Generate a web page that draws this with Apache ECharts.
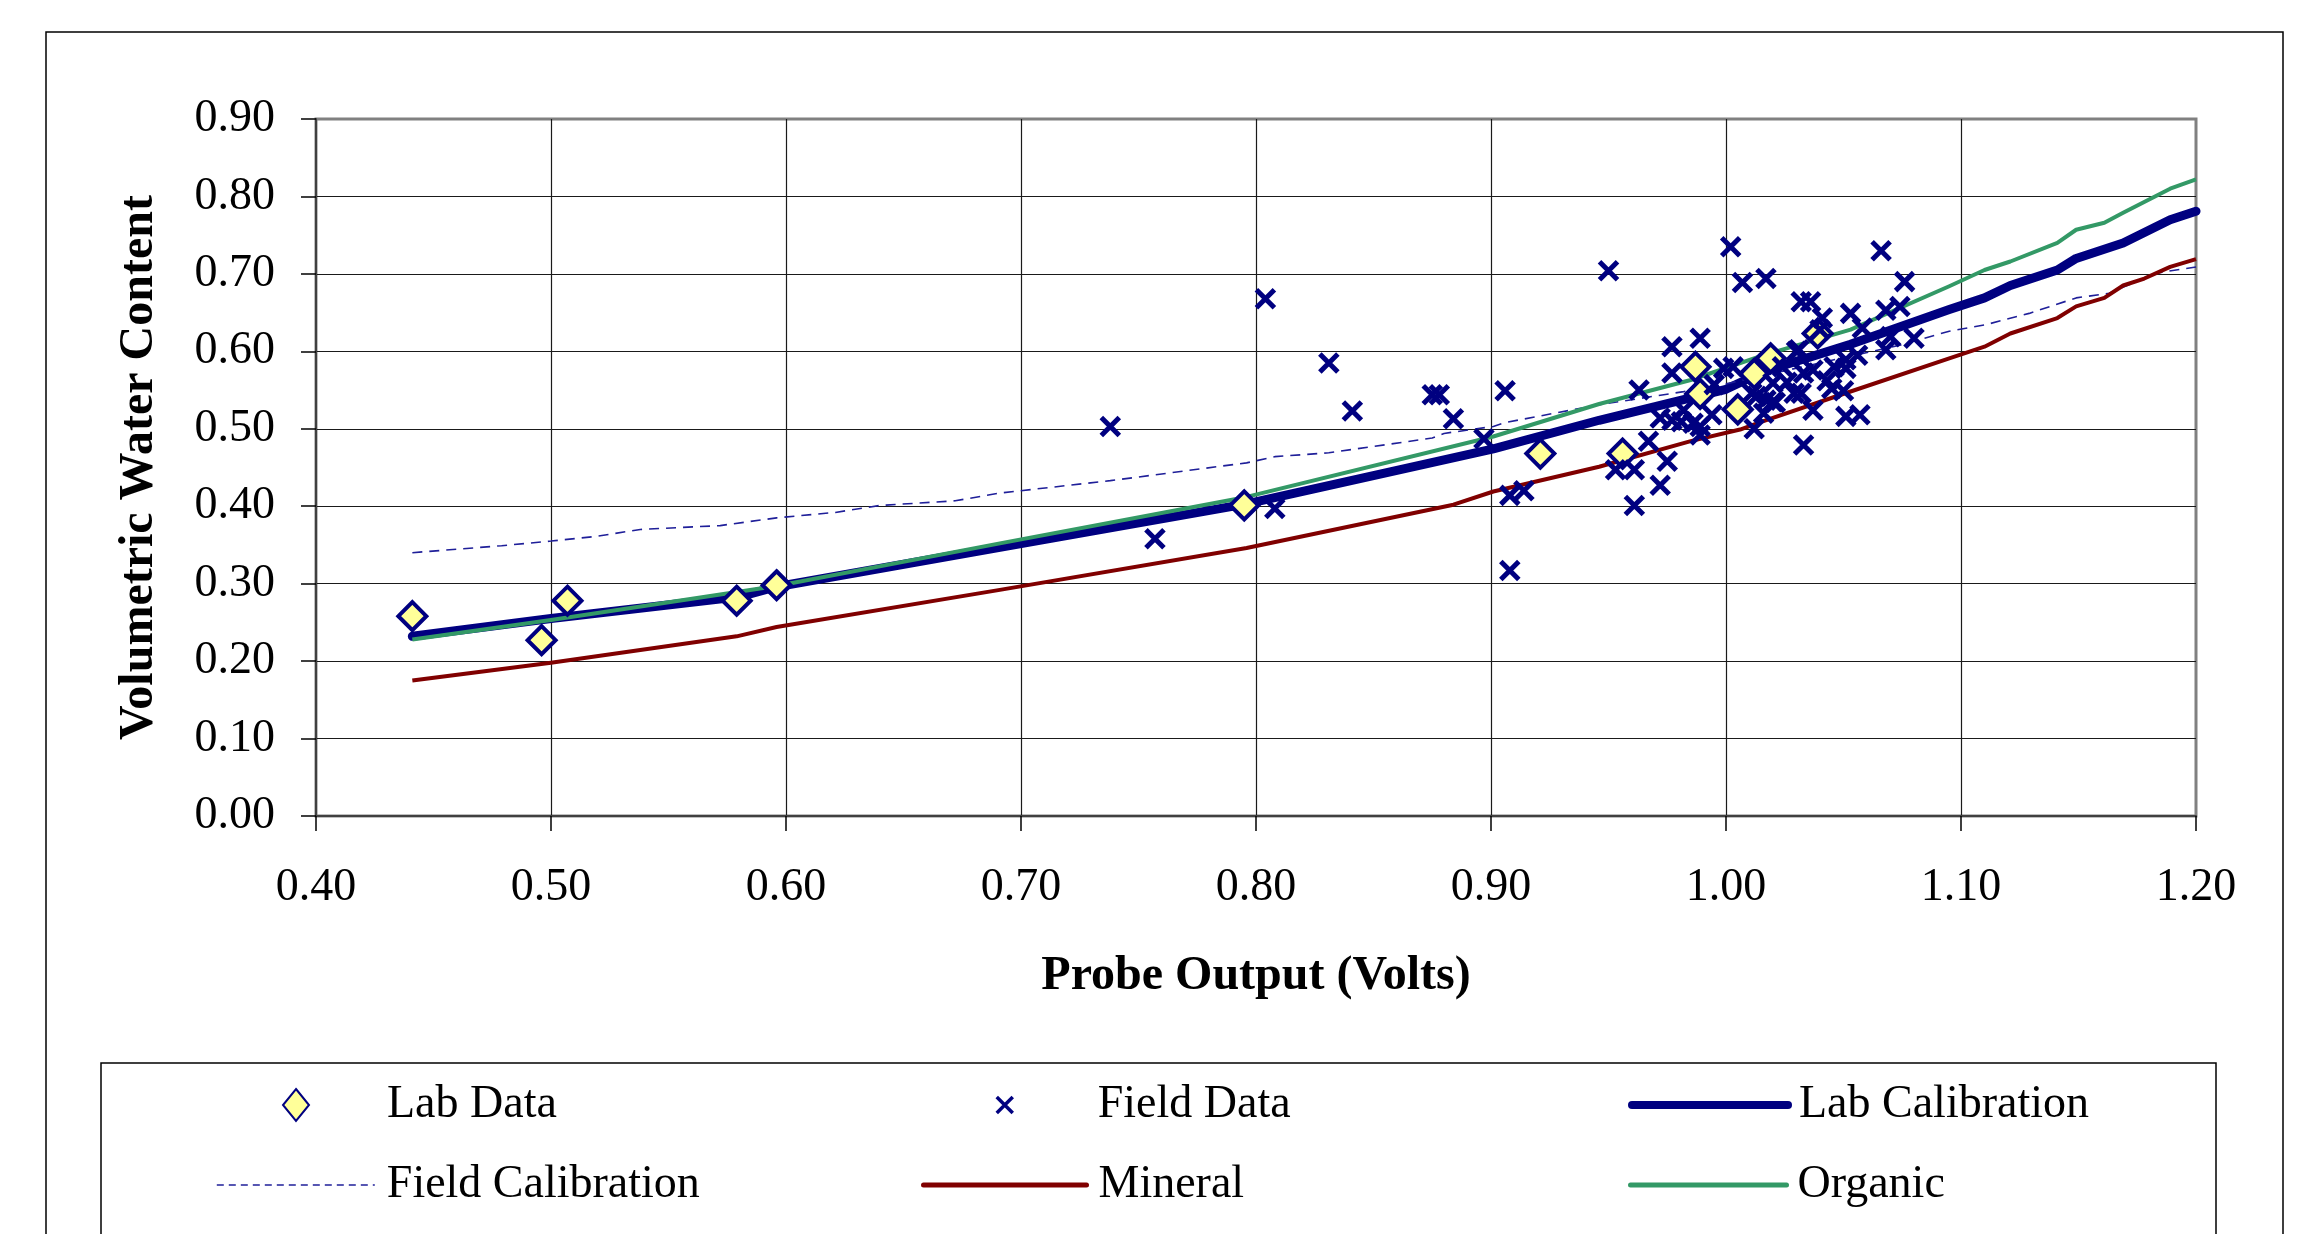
<!DOCTYPE html>
<html>
<head>
<meta charset="utf-8">
<title>Probe calibration</title>
<script src="https://cdn.jsdelivr.net/npm/echarts@6/dist/echarts.min.js"></script>
<style>
  html, body { margin: 0; padding: 0; background: #fff; }
  #chart { width: 2301px; height: 1234px; }
</style>
</head>
<body>
<div id="chart"></div>
<script>
// Axis ranges: [min, max, interval]
const xRange = [0.4, 1.2, 0.1];
const yRange = [0.0, 0.9, 0.1];

// Laboratory samples: [probe output (V), volumetric water content]
const labData = [
  [0.441, 0.258], [0.496, 0.227], [0.507, 0.278], [0.579, 0.278], [0.596, 0.298],
  [0.795, 0.401], [0.921, 0.468], [0.956, 0.468], [0.987, 0.580], [0.989, 0.545],
  [1.005, 0.525], [1.012, 0.571], [1.019, 0.591], [1.039, 0.623]
];

// Field samples
const fieldData = [
  [0.738, 0.503], [0.757, 0.358], [0.804, 0.668], [0.808, 0.397], [0.831, 0.585],
  [0.841, 0.523], [0.875, 0.544], [0.878, 0.544], [0.884, 0.513], [0.897, 0.487],
  [0.906, 0.549], [0.908, 0.414], [0.914, 0.420], [0.908, 0.317], [0.950, 0.704],
  [1.002, 0.735], [1.007, 0.689], [1.017, 0.694], [1.066, 0.730], [1.076, 0.690],
  [0.953, 0.447], [0.961, 0.447], [0.961, 0.401], [0.972, 0.427], [0.975, 0.458],
  [0.967, 0.484], [0.963, 0.550], [0.977, 0.606], [0.989, 0.617], [0.977, 0.572],
  [0.972, 0.514], [0.977, 0.511], [0.982, 0.524], [0.981, 0.509], [0.986, 0.507],
  [0.989, 0.503], [0.989, 0.492], [0.994, 0.518], [0.995, 0.557], [0.999, 0.578],
  [1.003, 0.580], [1.012, 0.500], [1.016, 0.520], [1.013, 0.542], [1.020, 0.559],
  [1.017, 0.537], [1.011, 0.546], [1.021, 0.534], [1.024, 0.580], [1.032, 0.664],
  [1.036, 0.664], [1.041, 0.643], [1.053, 0.649], [1.058, 0.630], [1.068, 0.653],
  [1.074, 0.658], [1.080, 0.617], [1.070, 0.619], [1.068, 0.602], [1.056, 0.595],
  [1.051, 0.589], [1.031, 0.602], [1.033, 0.572], [1.037, 0.576], [1.043, 0.562],
  [1.051, 0.578], [1.050, 0.549], [1.045, 0.552], [1.029, 0.546], [1.032, 0.546],
  [1.037, 0.524], [1.051, 0.516], [1.057, 0.518], [1.033, 0.479], [1.020, 0.535],
  [1.026, 0.560], [1.040, 0.628], [1.046, 0.580], [1.030, 0.600]
];

// Calibration curves
const labCalX = [0.441, 0.500, 0.580, 0.596, 0.691, 0.796, 0.901, 0.946, 0.985, 1.000, 1.016, 1.053, 1.095, 1.110, 1.121, 1.141, 1.149, 1.169, 1.189, 1.200];
const labCalY = [0.232, 0.255, 0.283, 0.296, 0.347, 0.403, 0.474, 0.511, 0.540, 0.551, 0.574, 0.609, 0.654, 0.669, 0.685, 0.705, 0.720, 0.740, 0.770, 0.781];

const fieldCalX = [0.441, 0.479, 0.500, 0.519, 0.538, 0.572, 0.596, 0.621, 0.640, 0.672, 0.691, 0.738, 0.796, 0.808, 0.831, 0.875, 0.880, 0.901, 0.906, 0.946, 0.982, 1.000, 1.040, 1.074, 1.095, 1.110, 1.129, 1.149, 1.163, 1.183, 1.200];
const fieldCalY = [0.340, 0.349, 0.355, 0.361, 0.370, 0.375, 0.385, 0.392, 0.401, 0.407, 0.417, 0.433, 0.456, 0.464, 0.469, 0.488, 0.494, 0.503, 0.508, 0.531, 0.548, 0.558, 0.585, 0.608, 0.626, 0.634, 0.649, 0.669, 0.675, 0.701, 0.709];

const mineralX = [0.441, 0.500, 0.579, 0.596, 0.691, 0.796, 0.884, 0.901, 0.946, 0.985, 1.006, 1.015, 1.047, 1.095, 1.110, 1.121, 1.141, 1.149, 1.161, 1.169, 1.178, 1.189, 1.200];
const mineralY = [0.175, 0.198, 0.232, 0.244, 0.292, 0.346, 0.402, 0.419, 0.451, 0.484, 0.499, 0.509, 0.542, 0.591, 0.606, 0.623, 0.643, 0.658, 0.669, 0.685, 0.694, 0.709, 0.719];

const organicX = [0.441, 0.500, 0.596, 0.691, 0.796, 0.901, 0.946, 0.985, 1.016, 1.053, 1.095, 1.110, 1.121, 1.141, 1.149, 1.161, 1.169, 1.189, 1.200];
const organicY = [0.228, 0.253, 0.297, 0.352, 0.412, 0.490, 0.532, 0.563, 0.595, 0.628, 0.684, 0.705, 0.716, 0.740, 0.757, 0.766, 0.779, 0.810, 0.822];

const pair = (xs, ys) => xs.map((x, i) => [x, ys[i]]);

const SERIF = '"Liberation Serif", "Times New Roman", serif';
const NAVY = '#000080';
const DASH_BLUE = '#1f1f99';
const MAROON = '#800000';
const GREEN = '#339966';
const CROSS = 'path://M0,0L10,10M10,0L0,10';

// One legend block per entry so each sits in its own column/row
function legendItem(name, left, top, itemW, itemH, pad, line, itemStyle) {
  const lg = {
    data: [name], left: left, top: top, padding: 0,
    itemWidth: itemW, itemHeight: itemH, selectedMode: false,
    textStyle: {
      fontFamily: SERIF, fontSize: 46, color: '#000', lineHeight: 46,
      padding: [0, 0, 0, pad]
    }
  };
  // line entries show only the stroke, without a marker in the middle
  if (line) {
    lg.itemStyle = { opacity: 0, borderWidth: 0 };
    lg.lineStyle = line;
  }
  if (itemStyle) lg.itemStyle = itemStyle;
  return lg;
}
const row1 = 1105 - 23, row2 = 1185 - 23;

const chart = echarts.init(document.getElementById('chart'), null, { renderer: 'canvas' });

chart.setOption({
  backgroundColor: '#fff',
  animation: false,
  graphic: [
    { type: 'rect', silent: true, z: -10,
      shape: { x: 46, y: 32, width: 2237, height: 1300 },
      style: { fill: 'none', stroke: '#000', lineWidth: 1.5 } },
    { type: 'rect', silent: true, z: -10,
      shape: { x: 101, y: 1063, width: 2115, height: 300 },
      style: { fill: 'none', stroke: '#000', lineWidth: 1.5 } }
  ],
  grid: {
    left: 316, right: 105, top: 119, bottom: 418,
    show: true, borderColor: '#808080', borderWidth: 3, backgroundColor: '#fff'
  },
  legend: [
    legendItem('Lab Data', 282, row1, 26, 32, 73, null, null),
    legendItem('Field Calibration', 216, row2, 158, 20, 7,
      { color: DASH_BLUE, width: 1.6, type: [7, 5] }, null),
    legendItem('Field Data', 995, row1, 16, 16, 80, null,
      { color: 'rgba(0,0,0,0)', borderColor: NAVY, borderWidth: 3.5 }),
    legendItem('Mineral', 921, row2, 163, 20, 7,
      { color: MAROON, width: 5, cap: 'round' }, null),
    legendItem('Lab Calibration', 1628, row1, 156, 20, 6,
      { color: NAVY, width: 8, cap: 'round' }, null),
    legendItem('Organic', 1628, row2, 156, 20, 6,
      { color: GREEN, width: 5, cap: 'round' }, null)
  ],
  xAxis: {
    type: 'value', min: xRange[0], max: xRange[1], interval: xRange[2],
    name: 'Probe Output (Volts)', nameLocation: 'middle', nameGap: 137,
    nameTextStyle: { fontFamily: SERIF, fontSize: 48, fontWeight: 'bold', color: '#000' },
    axisLine: { show: true, onZero: false, lineStyle: { color: '#404040', width: 2 } },
    axisTick: { show: true, inside: false, length: 15, lineStyle: { color: '#000', width: 1.5 } },
    axisLabel: { margin: 49, fontFamily: SERIF, fontSize: 46, color: '#000',
      formatter: v => v.toFixed(2) },
    splitLine: { show: true, showMinLine: false, showMaxLine: false,
      lineStyle: { color: '#1a1a1a', width: 1.2 } }
  },
  yAxis: {
    type: 'value', min: yRange[0], max: yRange[1], interval: yRange[2],
    name: 'Volumetric Water Content', nameLocation: 'middle', nameGap: 152,
    nameTextStyle: { fontFamily: SERIF, fontSize: 48, fontWeight: 'bold', color: '#000' },
    axisLine: { show: true, onZero: false, lineStyle: { color: '#404040', width: 2 } },
    axisTick: { show: true, inside: false, length: 15, lineStyle: { color: '#000', width: 1.5 } },
    axisLabel: { margin: 41, fontFamily: SERIF, fontSize: 46, color: '#000',
      formatter: v => v.toFixed(2) },
    splitLine: { show: true, showMinLine: false, showMaxLine: false,
      lineStyle: { color: '#1a1a1a', width: 1.2 } }
  },
  series: [
    {
      name: 'Lab Calibration', type: 'line', data: pair(labCalX, labCalY),
      symbol: 'none', showSymbol: false, z: 2,
      lineStyle: { color: NAVY, width: 9, cap: 'round', join: 'round' },
      itemStyle: { color: NAVY }
    },
    {
      name: 'Field Calibration', type: 'line', data: pair(fieldCalX, fieldCalY),
      symbol: 'none', showSymbol: false, z: 2,
      lineStyle: { color: DASH_BLUE, width: 1.6, type: [10, 7] },
      itemStyle: { color: DASH_BLUE }
    },
    {
      name: 'Mineral', type: 'line', data: pair(mineralX, mineralY),
      symbol: 'none', showSymbol: false, z: 2,
      lineStyle: { color: MAROON, width: 4, join: 'round' },
      itemStyle: { color: MAROON }
    },
    {
      name: 'Organic', type: 'line', data: pair(organicX, organicY),
      symbol: 'none', showSymbol: false, z: 2,
      lineStyle: { color: GREEN, width: 4, join: 'round' },
      itemStyle: { color: GREEN }
    },
    {
      name: 'Lab Data', type: 'scatter', data: labData, z: 3,
      symbol: 'diamond', symbolSize: 28,
      itemStyle: { color: '#FFFF99', borderColor: NAVY, borderWidth: 4, opacity: 1 }
    },
    {
      name: 'Field Data', type: 'scatter', data: fieldData, z: 4,
      symbol: CROSS, symbolSize: 18,
      itemStyle: { color: 'rgba(0,0,0,0)', borderColor: NAVY, borderWidth: 5, opacity: 1 }
    }
  ]
});
</script>
</body>
</html>
